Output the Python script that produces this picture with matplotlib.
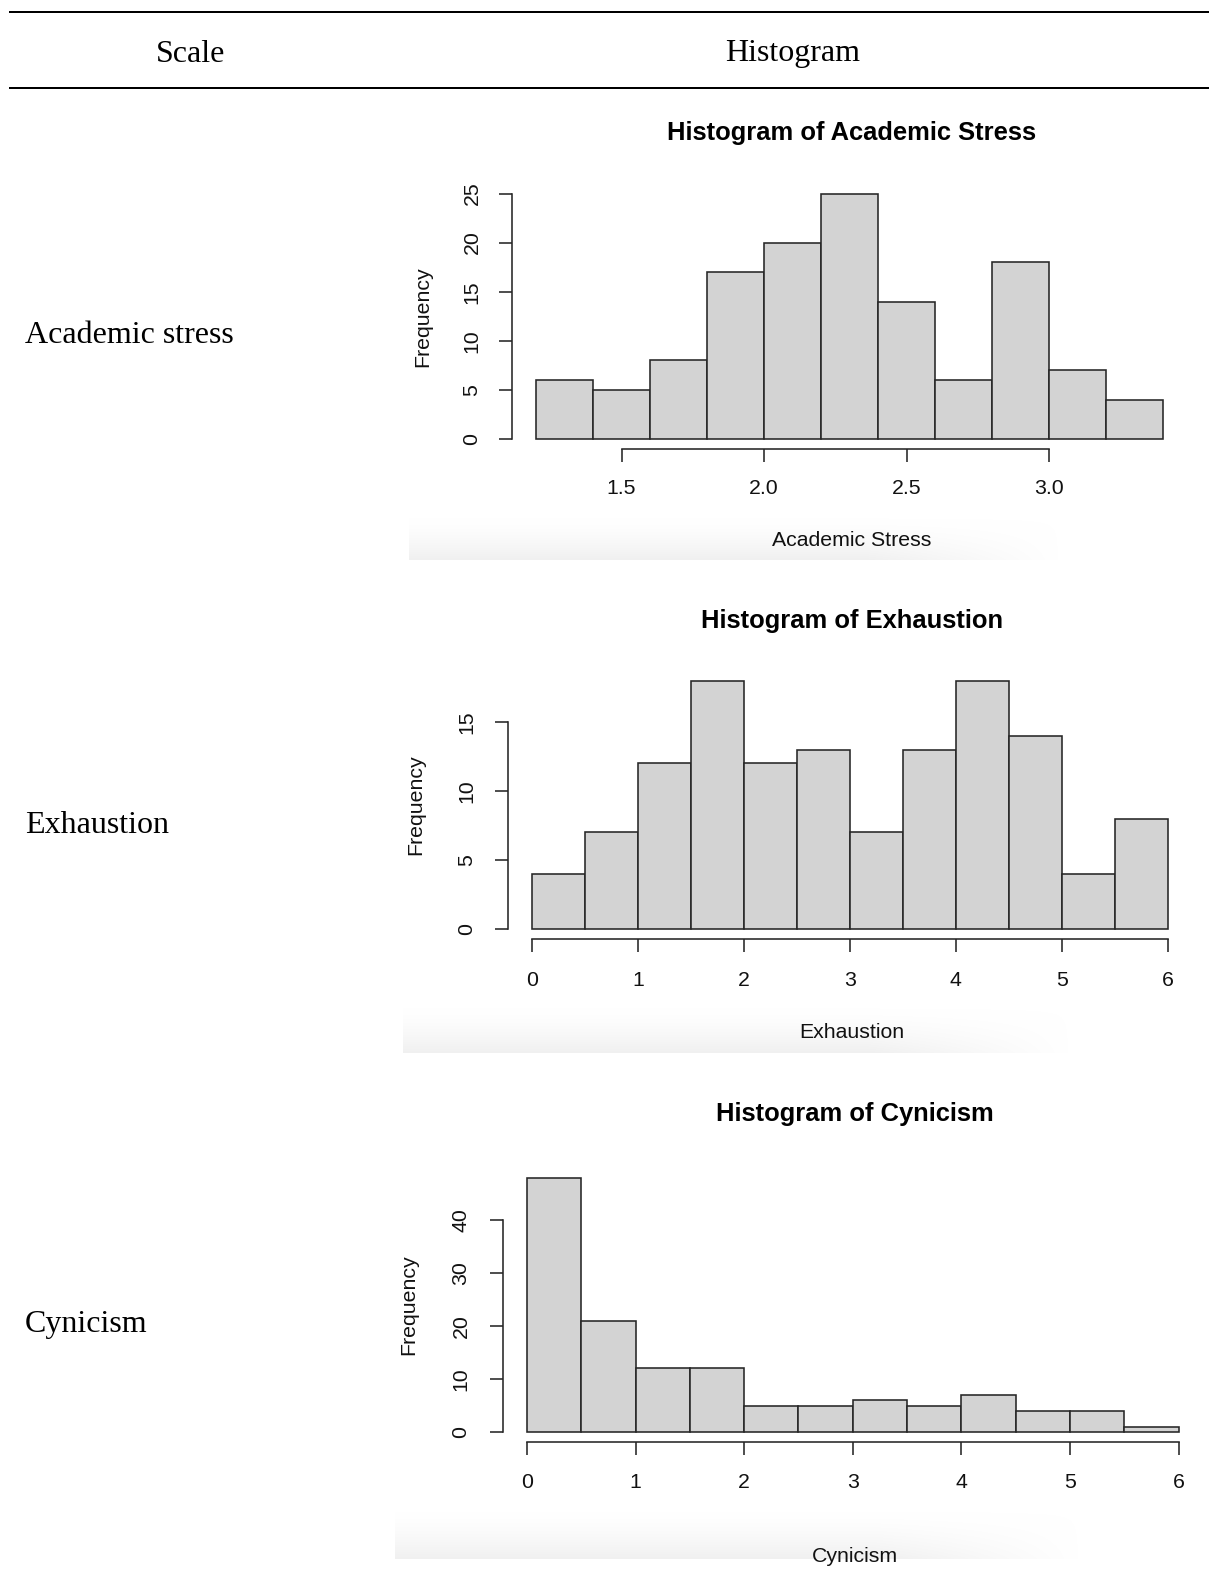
import numpy as np
import matplotlib
matplotlib.use("Agg")
import matplotlib.pyplot as plt
from matplotlib.transforms import blended_transform_factory

W, H = 1209, 1569
DPI = 100

# ---- table text ----
header = ["Scale", "Histogram"]
scale_names = ["Academic stress", "Exhaustion", "Cynicism"]

# ---- histogram data (bin edges and counts) ----
stress_edges = [1.2, 1.4, 1.6, 1.8, 2.0, 2.2, 2.4, 2.6, 2.8, 3.0, 3.2, 3.4]
stress_counts = [6, 5, 8, 17, 20, 25, 14, 6, 18, 7, 4]
stress_xticks = [1.5, 2.0, 2.5, 3.0]
stress_xticklabels = ["1.5", "2.0", "2.5", "3.0"]
stress_yticks = [0, 5, 10, 15, 20, 25]

exhaustion_edges = [0, 0.5, 1, 1.5, 2, 2.5, 3, 3.5, 4, 4.5, 5, 5.5, 6]
exhaustion_counts = [4, 7, 12, 18, 12, 13, 7, 13, 18, 14, 4, 8]
exhaustion_xticks = [0, 1, 2, 3, 4, 5, 6]
exhaustion_yticks = [0, 5, 10, 15]

cynicism_edges = [0, 0.5, 1, 1.5, 2, 2.5, 3, 3.5, 4, 4.5, 5, 5.5, 6]
cynicism_counts = [48, 21, 12, 12, 5, 5, 6, 5, 7, 4, 4, 1]
cynicism_xticks = [0, 1, 2, 3, 4, 5, 6]
cynicism_yticks = [0, 10, 20, 30, 40]

variables = ["Academic Stress", "Exhaustion", "Cynicism"]

panels = [
    dict(edges=stress_edges, counts=stress_counts, xticks=stress_xticks,
         xticklabels=stress_xticklabels, yticks=stress_yticks, ymax=25,
         x0=536, x1=1163, y0=439, ppu=9.82, ylab_x=472, freq_x=423,
         xtick_y=489, xlab_y=541, title_y=133, band=(409, 517, 1060, 560)),
    dict(edges=exhaustion_edges, counts=exhaustion_counts, xticks=exhaustion_xticks,
         xticklabels=[str(v) for v in exhaustion_xticks], yticks=exhaustion_yticks, ymax=18,
         x0=532, x1=1167.7, y0=929, ppu=13.8, ylab_x=467, freq_x=416,
         xtick_y=981, xlab_y=1033, title_y=621, band=(403, 1007, 1070, 1053)),
    dict(edges=cynicism_edges, counts=cynicism_counts, xticks=cynicism_xticks,
         xticklabels=[str(v) for v in cynicism_xticks], yticks=cynicism_yticks, ymax=48,
         x0=527, x1=1178.5, y0=1432, ppu=5.3, ylab_x=461, freq_x=409,
         xtick_y=1483, xlab_y=1556, title_y=1114, band=(395, 1510, 1080, 1559)),
]

SERIF = ["Liberation Serif", "DejaVu Serif"]
SANS = ["Liberation Sans", "DejaVu Sans"]
INK = "#262626"
PT = 72.0 / DPI


def fx(x):
    return x / W


def fy(y):
    return 1 - y / H


fig = plt.figure(figsize=(W / DPI, H / DPI), dpi=DPI)
fig.patch.set_facecolor("white")

# ---- table rules and text ----
for y in (11.7, 88.3):
    fig.add_artist(plt.Line2D([fx(10), 1.0], [fy(y), fy(y)], color="black",
                              lw=2.0 * PT, transform=fig.transFigure))
fig.text(fx(191), fy(61.5), header[0], family=SERIF, fontsize=23,
         ha="center", va="baseline")
fig.text(fx(793), fy(61.5), header[1], family=SERIF, fontsize=23,
         ha="center", va="baseline")
for name, yb in zip(scale_names, (343, 833, 1332)):
    fig.text(fx(25), fy(yb), name, family=SERIF, fontsize=23,
             ha="left", va="baseline")

# ---- soft grey band behind each x-axis title ----
for p in panels:
    bx0, by0, bx1, by1 = p["band"]
    bax = fig.add_axes([fx(bx0), fy(by1), fx(bx1 - bx0), (by1 - by0) / H])
    bax.set_axis_off()
    ny, nx = 60, 300
    vy = np.linspace(0, 1, ny)[:, None] ** 1.5          # top -> bottom
    hx = np.clip((1 - np.linspace(0, 1, nx)) / 0.3, 0, 1)[None, :]  # fade to right
    alpha = vy * hx
    img = np.zeros((ny, nx, 4))
    img[..., :3] = 0.945
    img[..., 3] = alpha
    bax.imshow(img, aspect="auto", extent=(0, 1, 0, 1), interpolation="bilinear")
    bax.set_zorder(-5)

# ---- histograms ----
for p, var in zip(panels, variables):
    top_px = p["y0"] - p["ymax"] * p["ppu"]
    ax = fig.add_axes([fx(p["x0"]), fy(p["y0"]),
                       fx(p["x1"]) - fx(p["x0"]), (p["y0"] - top_px) / H])
    ax.patch.set_alpha(0)
    edges = np.array(p["edges"], dtype=float)
    ax.bar(edges[:-1], p["counts"], width=np.diff(edges), align="edge",
           color="#d3d3d3", edgecolor=INK, linewidth=1.6 * PT, clip_on=False)
    ax.set_xlim(edges[0], edges[-1])
    ax.set_ylim(0, p["ymax"])

    for s in ("top", "right"):
        ax.spines[s].set_visible(False)
    ax.spines["left"].set_position(("outward", 24.5 * PT))
    ax.spines["bottom"].set_position(("outward", 10 * PT))
    ax.spines["left"].set_bounds(p["yticks"][0], p["yticks"][-1])
    ax.spines["bottom"].set_bounds(p["xticks"][0], p["xticks"][-1])
    for s in ("left", "bottom"):
        ax.spines[s].set_linewidth(1.6 * PT)
        ax.spines[s].set_color(INK)

    ax.set_xticks(p["xticks"])
    ax.set_yticks(p["yticks"])
    ax.tick_params(direction="out", length=13 * PT, width=1.6 * PT, color=INK,
                   labelbottom=False, labelleft=False)

    # tick labels positioned through the axis transforms
    ty = blended_transform_factory(fig.transFigure, ax.transData)
    for v in p["yticks"]:
        ax.text(fx(p["ylab_x"]), v, str(v), transform=ty, rotation=90,
                ha="center", va="center", family=SANS, fontsize=15.3,
                color="#111111")
    tx = blended_transform_factory(ax.transData, fig.transFigure)
    for v, lab in zip(p["xticks"], p["xticklabels"]):
        ax.text(v, fy(p["xtick_y"]), lab, transform=tx, ha="center",
                va="center", family=SANS, fontsize=15.3, color="#111111")

    cx = fx((p["x0"] + p["x1"]) / 2 + 2)
    fig.text(cx, fy(p["xlab_y"]), var, ha="center", va="center",
             family=SANS, fontsize=15.3, color="#111111")
    fig.text(cx, fy(p["title_y"]), "Histogram of " + var, ha="center",
             va="center", family=SANS, fontsize=18.4, fontweight="bold",
             color="black")
    ymid_px = p["y0"] - p["ymax"] / 2 * p["ppu"]
    fig.text(fx(p["freq_x"]), fy(ymid_px), "Frequency", rotation=90,
             ha="center", va="center", family=SANS, fontsize=15.3,
             color="#111111")

fig.savefig("out.png", dpi=DPI)
